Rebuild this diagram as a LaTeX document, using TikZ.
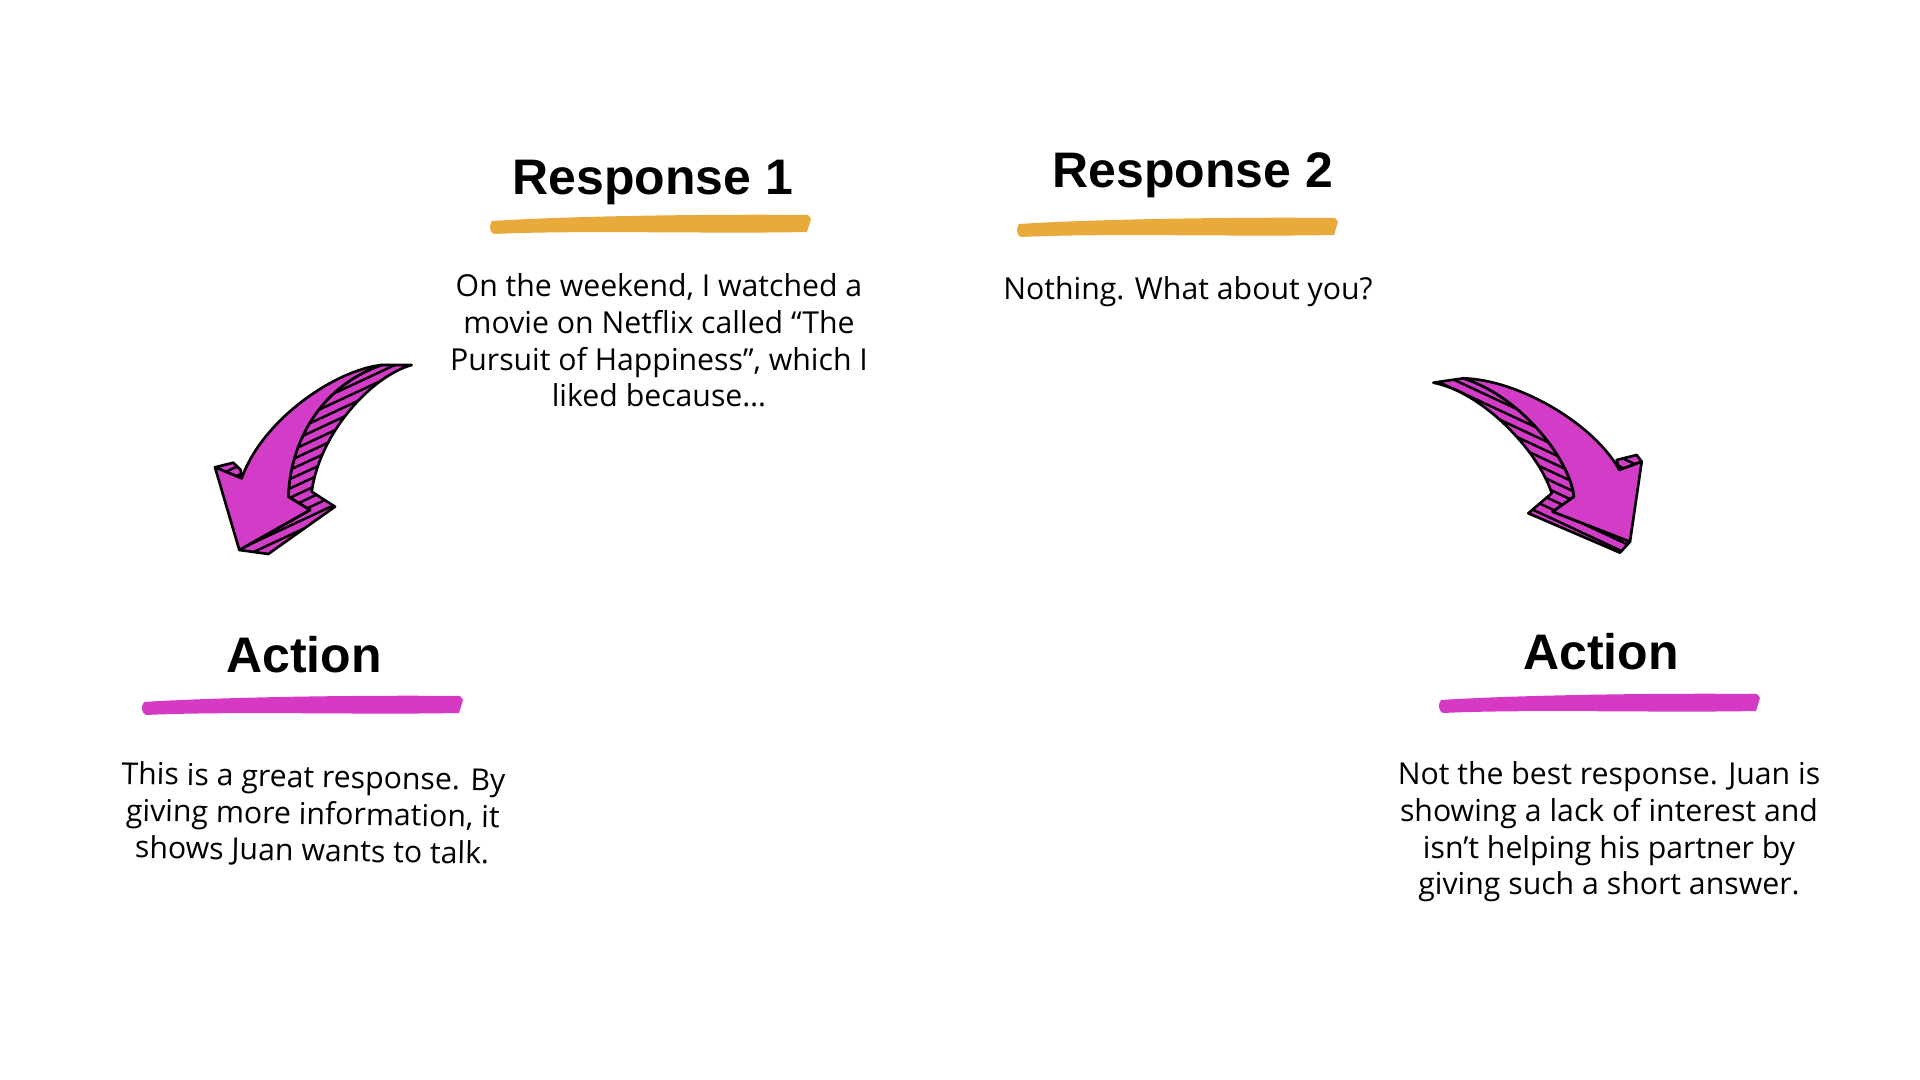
\documentclass[tikz,border=0pt]{standalone}
\usepackage{fontspec}
\setmainfont{Open Sans}
\newfontfamily\headfont{Liberation Sans}
\usetikzlibrary{patterns.meta}
\definecolor{brushorange}{HTML}{E8AA3A}
\definecolor{brushpink}{HTML}{D63AC4}
\definecolor{arrowpink}{HTML}{D23CC6}
\tikzset{
  headtxt/.style   = {anchor=base, inner sep=0pt,
                       font=\headfont\bfseries\fontsize{14.2}{17}\selectfont},
  bodytxt/.style   = {anchor=base, align=center, inner sep=0pt,
                       font=\fontsize{8.6}{10.44}\selectfont},
  arrowface/.style = {fill=arrowpink, draw=black, line width=0.75pt, line join=round},
  arrowside/.style = {draw=black, line width=0.75pt, line join=round,
                       preaction={fill=arrowpink},
                       pattern={Lines[angle=#1, distance=2.4pt, line width=0.7pt]},
                       pattern color=black},
  pics/brushbar/.style = {code={
    \fill[pic actions] (2,5) .. controls (80,0) and (220,-2) .. (318,-1) -- (321,3) -- (317,16)
      .. controls (220,18) and (90,14) .. (4,18) .. controls (-1,16) and (-1,9) .. (2,5) -- cycle;
  }},
}

\begin{document}
\begin{tikzpicture}[x=0.01cm, y=-0.01cm]
\fill[white] (0,0) rectangle (1920,1080);
\useasboundingbox (0,0) rectangle (1920,1080);

% Response 1 (body anchored on its last line)
\node[headtxt] (r1head) at (653,195) {Response 1};
\pic[fill=brushorange] at (490,216) {brushbar};
\node[bodytxt] (r1body) at (659,407) {On the weekend, I watched a\\movie on Netflix called “The\\Pursuit of Happiness”, which I\\liked because…};

% Response 2
\node[headtxt] (r2head) at (1193,188) {Response 2};
\pic[fill=brushorange] at (1017,219) {brushbar};
\node[bodytxt] (r2body) at (1188,300) {Nothing. What about you?};

% Action (left)
\node[headtxt] (a1head) at (304,673) {Action};
\pic[fill=brushpink] at (142,697) {brushbar};
\node[bodytxt, rotate=-1] (a1body) at (312,861) {This is a great response. By\\giving more information, it\\shows Juan wants to talk.};

% Action (right)
\node[headtxt] (a2head) at (1601,670) {Action};
\pic[fill=brushpink] at (1439,695) {brushbar};
\node[bodytxt] (a2body) at (1609,895) {Not the best response. Juan is\\showing a lack of interest and\\isn’t helping his partner by\\giving such a short answer.};

% Left arrow: hatched side, then front face
\draw[arrowside=25] (381.7,365) -- (411.7,365) .. controls (372,376) and (320,432) .. (311.7,491.7)
  -- (335,506.7) -- (268.3,554) -- (239.3,550) -- (310,510) -- (288.3,496.7)
  .. controls (290,445) and (318,387) .. (381.7,365) -- cycle;
\draw[arrowside=25] (215,467.3) -- (233.3,462.7) -- (240.7,470) -- (241.7,478.3) -- cycle;
\draw[arrowface] (381.7,365) .. controls (335,370) and (262,420) .. (241.7,478.3)
  -- (215,467.3) -- (239.3,550) -- (310,510) -- (288.3,496.7)
  .. controls (290,445) and (318,387) .. (381.7,365) -- cycle;

% Right arrow: hatched side, then front face
\draw[arrowside=-25] (1463.3,378.3) -- (1433.3,382.7) .. controls (1482,392) and (1538,450) .. (1551.7,493.3)
  -- (1528.3,513.3) -- (1620,552.7) -- (1630,541.7) -- (1552.7,511.7) -- (1574,496.7)
  .. controls (1570,460) and (1522,397) .. (1463.3,378.3) -- cycle;
\draw[arrowside=-25] (1616.7,460) -- (1636.7,455) -- (1641.7,461.7) -- (1619.3,470) -- cycle;
\draw[arrowface] (1463.3,378.3) .. controls (1520,380) and (1595,425) .. (1619.3,470)
  -- (1641.7,461.7) -- (1630,541.7) -- (1552.7,511.7) -- (1574,496.7)
  .. controls (1570,460) and (1522,397) .. (1463.3,378.3) -- cycle;
\end{tikzpicture}
\end{document}
